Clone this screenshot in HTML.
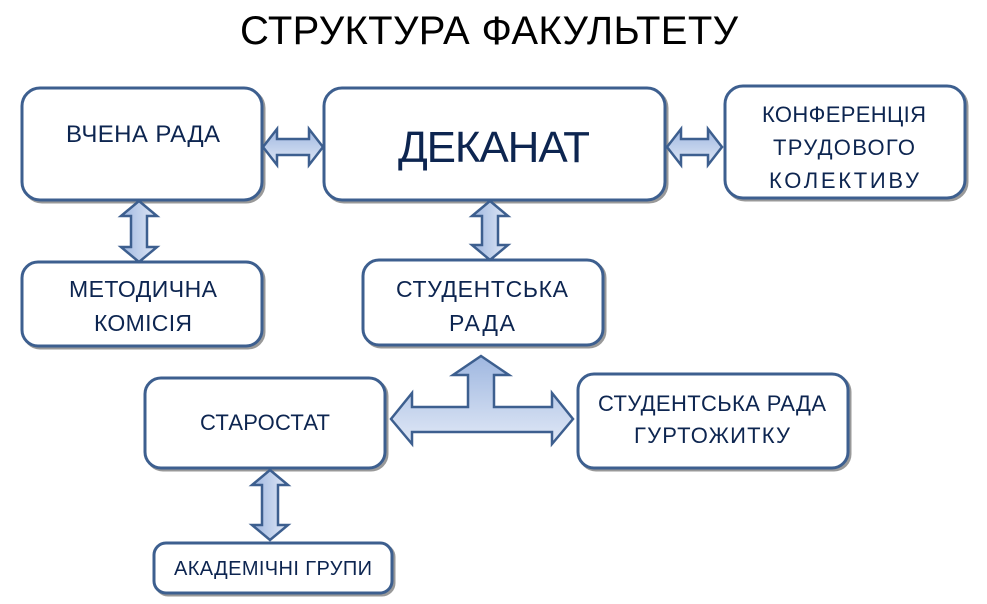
<!DOCTYPE html>
<html><head><meta charset="utf-8"><style>
body{margin:0;background:#fff;width:987px;height:604px;overflow:hidden}
svg{display:block}
text{font-family:"Liberation Sans","DejaVu Sans",sans-serif;fill:#0d2550;text-anchor:middle}
</style></head><body>
<svg width="987" height="604" viewBox="0 0 987 604">
<defs>
<linearGradient id="g" x1="0" y1="0" x2="0" y2="1"><stop offset="0" stop-color="#9fb7e0"/><stop offset="1" stop-color="#e0e8f6"/></linearGradient>
<linearGradient id="gh" x1="0" y1="0" x2="1" y2="0"><stop offset="0" stop-color="#9fb7e0"/><stop offset="1" stop-color="#e0e8f6"/></linearGradient>
</defs>
<text x="489" y="44" style="fill:#000;font-size:40px" textLength="498">СТРУКТУРА ФАКУЛЬТЕТУ</text>
<g fill="none" stroke="#999" stroke-width="3">
<rect x="24" y="90" width="240" height="112" rx="18"/>
<rect x="326" y="90" width="341" height="112" rx="18"/>
<rect x="727" y="88" width="240" height="112" rx="18"/>
<rect x="24" y="264" width="240" height="84" rx="16"/>
<rect x="365" y="262" width="240" height="85" rx="16"/>
<rect x="147" y="380" width="240" height="90" rx="16"/>
<rect x="580" y="376" width="270" height="94" rx="16"/>
<rect x="156" y="545" width="238" height="50" rx="12"/>
</g>
<g fill="#fff" stroke="#3d5f8f" stroke-width="3">
<rect x="22" y="88" width="240" height="112" rx="18"/>
<rect x="324" y="88" width="341" height="112" rx="18"/>
<rect x="725" y="86" width="240" height="112" rx="18"/>
<rect x="22" y="262" width="240" height="84" rx="16"/>
<rect x="363" y="260" width="240" height="85" rx="16"/>
<rect x="145" y="378" width="240" height="90" rx="16"/>
<rect x="578" y="374" width="270" height="94" rx="16"/>
<rect x="154" y="543" width="238" height="50" rx="12"/>
</g>
<g stroke="#3d5f8f" stroke-width="2.5" stroke-linejoin="miter">
<polygon fill="url(#g)" points="263,147 277,129 277,139 309,139 309,129 323,147 309,165 309,155 277,155 277,165"/>
<polygon fill="url(#g)" points="667,147 681,129 681,139 708,139 708,129 722,147 708,165 708,155 681,155 681,165"/>
<polygon fill="url(#gh)" points="139,201 157,216 147,216 147,247 157,247 139,262 121,247 131,247 131,216 121,216"/>
<polygon fill="url(#gh)" points="490,201 508,216 498,216 498,245 508,245 490,260 472,245 482,245 482,216 472,216"/>
<polygon fill="url(#gh)" points="270,470 288,485 278,485 278,525 288,525 270,540 252,525 262,525 262,485 252,485"/>
<polygon fill="url(#g)" points="481,356 509,375 494,375 494,407 552,407 552,393 573,419 552,444 552,432 412,432 412,444 391,419 412,393 412,407 468,407 468,375 453,375"/>
</g>
<text x="143" y="142" style="font-size:24px" textLength="154">ВЧЕНА РАДА</text>
<text x="494" y="162" style="font-size:44px" textLength="192">ДЕКАНАТ</text>
<text x="844" y="122" style="font-size:22px" textLength="164">КОНФЕРЕНЦІЯ</text>
<text x="844" y="155" style="font-size:22px" textLength="142">ТРУДОВОГО</text>
<text x="844" y="188" style="font-size:22px" textLength="150">КОЛЕКТИВУ</text>
<text x="143" y="297" style="font-size:23px" textLength="148">МЕТОДИЧНА</text>
<text x="143" y="331" style="font-size:23px" textLength="98">КОМІСІЯ</text>
<text x="482" y="297" style="font-size:23px" textLength="172">СТУДЕНТСЬКА</text>
<text x="482" y="331" style="font-size:23px" textLength="66">РАДА</text>
<text x="265" y="430" style="font-size:22px" textLength="130">СТАРОСТАТ</text>
<text x="712" y="411" style="font-size:22px" textLength="228">СТУДЕНТСЬКА РАДА</text>
<text x="712" y="443" style="font-size:22px" textLength="156">ГУРТОЖИТКУ</text>
<text x="273" y="575" style="font-size:20px" textLength="198">АКАДЕМІЧНІ ГРУПИ</text>
</svg>
</body></html>
